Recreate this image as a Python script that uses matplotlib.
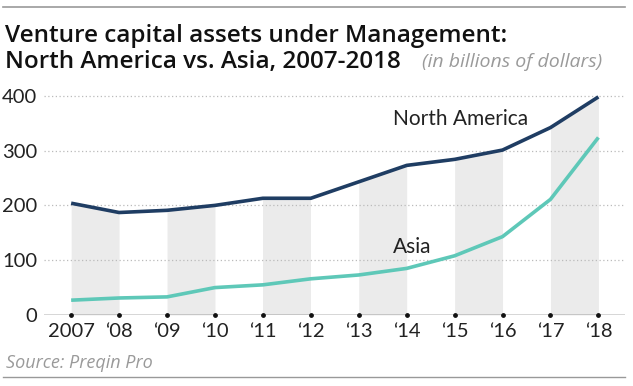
import numpy as np
import matplotlib
matplotlib.use("Agg")
import matplotlib.pyplot as plt
from matplotlib.lines import Line2D

plt.rcParams['font.family'] = ['Lato', 'DejaVu Sans']

years = np.arange(2007, 2019)
tick_labels = ['2007', "\u201808", "\u201809", "\u201810", "\u201811", "\u201812",
               "\u201813", "\u201814", "\u201815", "\u201816", "\u201817", "\u201818"]
north_america = [204, 187, 191, 200, 213, 213, 243, 273, 284, 301, 342, 398]
asia = [27, 31, 33, 50, 55, 66, 73, 85, 108, 143, 211, 324]

navy = '#1f3d63'
teal = '#5ec8b8'

fig = plt.figure(figsize=(6.33, 3.86), dpi=100)
ax = fig.add_axes([0.070, 0.184, 0.917, 0.582])

# shaded bands under the North America line, every other year
for i in range(0, len(years) - 1, 2):
    ax.fill_between(years[i:i + 2], 0, north_america[i:i + 2], color='#ebebeb', lw=0, zorder=0)

for v in [100, 200, 300, 400]:
    ax.axhline(v, color='#bbbbbb', lw=0.9, ls=(0, (1, 2)), zorder=1)

ax.plot(years, north_america, color=navy, lw=2.6, zorder=3, solid_capstyle='butt')
ax.plot(years, asia, color=teal, lw=2.6, zorder=3, solid_capstyle='butt')

ax.axhline(0, color='#333333', lw=1.0, zorder=4)
ax.scatter(years, np.zeros(len(years)), s=6, color='#111111', zorder=5, clip_on=False)

ax.set_xlim(2006.44, 2018.55)
ax.set_ylim(0, 410)
ax.set_xticks(years)
ax.set_xticklabels(tick_labels)
ax.set_yticks([0, 100, 200, 300, 400])
ax.tick_params(axis='both', length=0, labelsize=14.5, colors='#222222')
ax.tick_params(axis='x', pad=5.5)
ax.tick_params(axis='y', pad=5)
for s in ax.spines.values():
    s.set_visible(False)
ax.set_facecolor('none')

ax.text(2013.71, 347, 'North America', fontsize=15, color='#222222', va='baseline', ha='left')
ax.text(2013.71, 114, 'Asia', fontsize=15, color='#222222', va='baseline', ha='left')

title_font = ['Open Sans', 'DejaVu Sans']
fig.text(0.008, 0.891, 'Venture capital assets under Management:', fontsize=17.5,
         fontweight='semibold', family=title_font, color='#111111', va='baseline')
fig.text(0.008, 0.824, 'North America vs. Asia, 2007-2018', fontsize=17.5,
         fontweight='semibold', family=title_font, color='#111111', va='baseline')
fig.text(0.667, 0.826, '(in billions of dollars)', fontsize=14, style='italic',
         family=title_font, color='#9a9a9a', va='baseline')
fig.text(0.009, 0.047, 'Source: Preqin Pro', fontsize=13, style='italic',
         family=title_font, color='#9a9a9a', va='baseline')

fig.add_artist(Line2D([0.005, 0.987], [0.982, 0.982], color='#999999', lw=1.2))
fig.add_artist(Line2D([0.005, 0.987], [0.023, 0.023], color='#999999', lw=1.0))

fig.savefig('out.png', dpi=100)
